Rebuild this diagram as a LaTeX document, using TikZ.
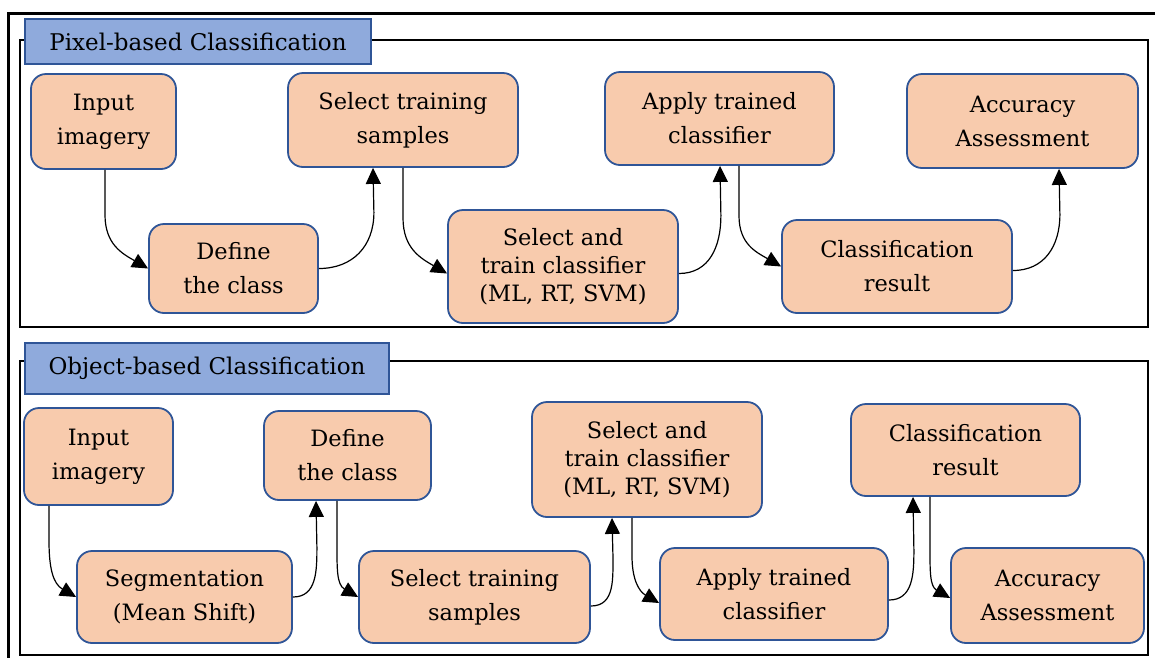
\documentclass[tikz,border=0pt]{standalone}
\usepackage{fontspec}
\setmainfont{DejaVu Serif}
\usetikzlibrary{arrows.meta}
\definecolor{peach}{HTML}{F8CBAD}
\definecolor{bordblue}{HTML}{2F5597}
\definecolor{titleblue}{HTML}{8FAADC}
\tikzset{
  box/.style={draw=bordblue, line width=1.8pt, fill=peach, rounded corners=15pt, align=center, inner sep=0pt,
    font=\fontsize{22.5}{34}\selectfont},
  box3/.style={box, font=\fontsize{22.5}{28}\selectfont},
  titlebox/.style={draw=bordblue, line width=1.5pt, fill=titleblue, inner sep=0pt, font=\fontsize{23}{26}\selectfont},
  frame/.style={draw=black, line width=2pt},
  arr/.style={draw=black, line width=1.2pt, -{Triangle[length=16pt,width=15pt]}},
  down/.style={arr, out=-90, in=150, looseness=1.1},
  up/.style={arr, out=0, in=-90, looseness=1.1}
}
\begin{document}
\begin{tikzpicture}[x=1pt,y=-1pt]
\useasboundingbox (0,0) rectangle (1155,657);
% outer frame (cropped)
\draw[line width=3pt] (8,658) -- (8,13) -- (1156,13);
% section frames
\draw[frame] (20,40) rectangle (1148,327);
\draw[frame] (20,361) rectangle (1148,655);
% titles
\node[titlebox, minimum width=346, minimum height=45] (t1) at (198,41.5) {\raisebox{-2pt}{Pixel-based Classification}};
\node[titlebox, minimum width=364, minimum height=51] (t2) at (207,368.5) {\raisebox{-2pt}{Object-based Classification}};

% Pixel-based row
\node[box, minimum width=145, minimum height=95] (p1) at (103.5,121.5) {Input\\imagery};
\node[box, minimum width=169, minimum height=89] (p2) at (233.5,268.5) {Define\\the class};
\node[box, minimum width=230, minimum height=94] (p3) at (403,120) {Select training\\samples};
\node[box3, minimum width=230, minimum height=113] (p4) at (563,266.5) {Select and\\train classifier\\(ML, RT, SVM)};
\node[box, minimum width=229, minimum height=93] (p5) at (719.5,118.5) {Apply trained\\classifier};
\node[box, minimum width=230, minimum height=93] (p6) at (897,266.5) {Classification\\result};
\node[box, minimum width=231, minimum height=94] (p7) at (1022.5,121) {Accuracy\\Assessment};

% Object-based row
\node[box, minimum width=149, minimum height=97] (o1) at (98.5,456.5) {Input\\imagery};
\node[box, minimum width=215, minimum height=92] (o2) at (184.5,597) {Segmentation\\(Mean Shift)};
\node[box, minimum width=167, minimum height=89] (o3) at (347.5,455.5) {Define\\the class};
\node[box, minimum width=231, minimum height=92] (o4) at (474.5,597) {Select training\\samples};
\node[box3, minimum width=230, minimum height=115] (o5) at (647,459.5) {Select and\\train classifier\\(ML, RT, SVM)};
\node[box, minimum width=228, minimum height=92] (o6) at (774,594) {Apply trained\\classifier};
\node[box, minimum width=229, minimum height=92] (o7) at (965.5,450) {Classification\\result};
\node[box, minimum width=193, minimum height=95] (o8) at (1047.5,595.5) {Accuracy\\Assessment};

% Pixel connectors
\draw[down] ([xshift=1.5pt]p1.south) -- ++(0,45) to (p2.west);
\draw[up] (p2.east) to ++(55,-56) -- ([xshift=-30pt]p3.south);
\draw[down] (p3.south) -- ++(0,50) to ([yshift=-7pt]p4.west);
\draw[up] ([yshift=-7pt]p4.east) to ++(42,-58) -- ([xshift=0.5pt]p5.south);
\draw[down] ([xshift=19.5pt]p5.south) -- ++(0,50) to (p6.west);
\draw[up] ([yshift=-4pt]p6.east) to ++(47,-56) -- ([xshift=36.5pt]p7.south);

% Object connectors
\draw[down] ([xshift=-49.5pt]o1.south) -- ++(0,35) to (o2.west);
\draw[up] (o2.east) to ++(24,-50) -- ([xshift=-31.5pt]o3.south);
\draw[down] ([xshift=-10.5pt]o3.south) -- ++(0,42) to (o4.west);
\draw[up] ([yshift=-9pt]o4.east) to ++(22,-52) -- ([xshift=-35pt]o5.south);
\draw[down] ([xshift=-15pt]o5.south) -- ++(0,38) to ([yshift=-9pt]o6.west);
\draw[up] ([yshift=-6pt]o6.east) to ++(25,-50) -- ([xshift=-52.5pt]o7.south);
\draw[down] ([xshift=-35.5pt]o7.south) -- ++(0,50) to ([yshift=-2.5pt]o8.west);
\end{tikzpicture}
\end{document}
